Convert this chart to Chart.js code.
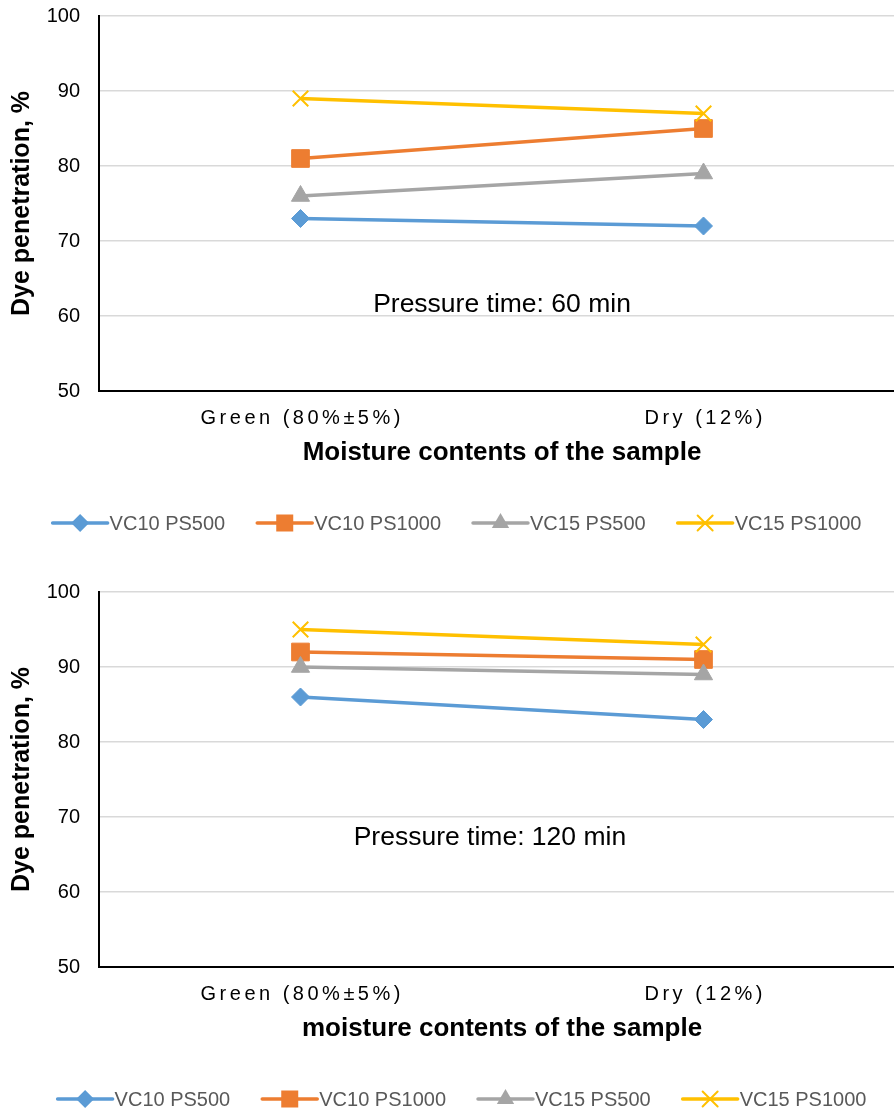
<!DOCTYPE html>
<html>
<head>
<meta charset="utf-8">
<script src="https://cdn.jsdelivr.net/npm/chart.js@4/dist/chart.umd.min.js"></script>
<style>
  html, body { margin: 0; padding: 0; background: #fff; overflow: hidden; width: 894px; height: 1114px; position: relative; }
  canvas { display: block; position: absolute; left: 0; }
  #chart60 { top: -16px; }
  #chart120 { top: 557px; }
</style>
</head>
<body>
<canvas id="chart60" width="905" height="573"></canvas>
<canvas id="chart120" width="905" height="557"></canvas>

<script>
// categories and tick labels
const categories = ['Green (80%±5%)', 'Dry (12%)'];
const yTicks = [50, 60, 70, 80, 90, 100];
const seriesNames = ['VC10 PS500', 'VC10 PS1000', 'VC15 PS500', 'VC15 PS1000'];

// pressure time 60 min
const vc10ps500_60 = [73, 72];
const vc10ps1000_60 = [81, 85];
const vc15ps500_60 = [76, 79];
const vc15ps1000_60 = [89, 87];

// pressure time 120 min
const vc10ps500_120 = [86, 83];
const vc10ps1000_120 = [92, 91];
const vc15ps500_120 = [90, 89];
const vc15ps1000_120 = [95, 93];

const colors = ['#5B9BD5', '#ED7D31', '#A5A5A5', '#FFC000'];
const markers = ['rectRot', 'rect', 'triangle', 'crossRot'];
const markerSize = { rectRot: 9, rect: 12.5, triangle: 10.5, crossRot: 11 };

const FONT = '"Liberation Sans", Arial, sans-serif';

// small marker drawer for the legend
function drawMarker(ctx, style, x, y, color) {
    ctx.save();
    ctx.fillStyle = color;
    ctx.strokeStyle = color;
    ctx.beginPath();
    if (style === 'rectRot') {
        const r = 9;
        ctx.moveTo(x, y - r); ctx.lineTo(x + r, y); ctx.lineTo(x, y + r); ctx.lineTo(x - r, y);
        ctx.closePath(); ctx.fill();
    } else if (style === 'rect') {
        ctx.rect(x - 8.5, y - 8.5, 17, 17); ctx.fill();
    } else if (style === 'triangle') {
        const r = 10;
        ctx.moveTo(x, y - r); ctx.lineTo(x + r * 0.866, y + r * 0.5); ctx.lineTo(x - r * 0.866, y + r * 0.5);
        ctx.closePath(); ctx.fill();
    } else {
        const d = 7.5;
        ctx.lineWidth = 2;
        ctx.moveTo(x - d, y - d); ctx.lineTo(x + d, y + d);
        ctx.moveTo(x + d, y - d); ctx.lineTo(x - d, y + d);
        ctx.stroke();
    }
    ctx.restore();
}

// x labels (spaced), annotation and legend
const extras = {
    id: 'extras',
    afterDraw(chart) {
        const ctx = chart.ctx;
        const xs = chart.scales.x, ys = chart.scales.y;
        const cfg = chart.options.plugins.extras;
        const area = chart.chartArea;

        ctx.save();
        ctx.fillStyle = '#000';
        ctx.font = '20px ' + FONT;
        ctx.textAlign = 'center';
        ctx.textBaseline = 'middle';
        ctx.letterSpacing = '3.5px';
        categories.forEach((c, i) => {
            ctx.fillText(c, xs.getPixelForValue(i) + 1.75, area.bottom + 27);
        });
        ctx.letterSpacing = '0px';

        ctx.font = '26.5px ' + FONT;
        ctx.fillText(cfg.note, xs.getPixelForValue(cfg.noteAt[0]), ys.getPixelForValue(cfg.noteAt[1]));

        // legend
        ctx.font = '20px ' + FONT;
        const lineLen = 55, gap = 32;
        const widths = seriesNames.map(n => ctx.measureText(n).width);
        const total = widths.reduce((a, b) => a + b, 0) + seriesNames.length * (lineLen + 2) + gap * (seriesNames.length - 1);
        let x = cfg.legendCenter - total / 2;
        const y = area.bottom + 132;
        ctx.textAlign = 'left';
        seriesNames.forEach((n, i) => {
            ctx.strokeStyle = colors[i];
            ctx.lineWidth = 3.5;
            ctx.lineCap = 'round';
            ctx.beginPath();
            ctx.moveTo(x, y); ctx.lineTo(x + lineLen, y);
            ctx.stroke();
            drawMarker(ctx, markers[i], x + lineLen / 2, y, colors[i]);
            ctx.fillStyle = '#595959';
            ctx.fillText(n, x + lineLen + 2, y + 1);
            x += lineLen + 2 + widths[i] + gap;
        });
        ctx.restore();
    }
};

const panels = [
    {
        id: 'chart60',
        series: [vc10ps500_60, vc10ps1000_60, vc15ps500_60, vc15ps1000_60],
        xTitle: 'Moisture contents of the sample',
        note: 'Pressure time: 60 min',
        noteAt: [0.5, 61.5],
        legendCenter: 457,
        padTop: 32,
        padBottom: 81
    },
    {
        id: 'chart120',
        series: [vc10ps500_120, vc10ps1000_120, vc15ps500_120, vc15ps1000_120],
        xTitle: 'moisture contents of the sample',
        note: 'Pressure time: 120 min',
        noteAt: [0.47, 67.2],
        legendCenter: 462,
        padTop: 35,
        padBottom: 62
    }
];

panels.forEach(p => {
    new Chart(document.getElementById(p.id), {
        type: 'line',
        data: {
            labels: categories,
            datasets: p.series.map((vals, i) => ({
                label: seriesNames[i],
                data: vals,
                borderColor: colors[i],
                backgroundColor: colors[i],
                borderWidth: 3.5,
                pointStyle: markers[i],
                pointRadius: markerSize[markers[i]],
                pointHoverRadius: markerSize[markers[i]],
                pointBorderWidth: markers[i] === 'crossRot' ? 2 : 1,
                pointBackgroundColor: colors[i],
                pointBorderColor: colors[i],
                tension: 0,
                order: seriesNames.length - i
            }))
        },
        options: {
            responsive: false,
            animation: false,
            layout: { autoPadding: false, padding: { top: p.padTop, bottom: p.padBottom, left: 0, right: 0 } },
            plugins: {
                legend: { display: false },
                tooltip: { enabled: false },
                extras: { note: p.note, noteAt: p.noteAt, legendCenter: p.legendCenter }
            },
            scales: {
                x: {
                    offset: true,
                    grid: { display: false },
                    border: { display: true, color: '#000', width: 2 },
                    ticks: { display: false },
                    title: {
                        display: true,
                        text: p.xTitle,
                        color: '#000',
                        font: { family: FONT, size: 26, weight: 'bold' },
                        padding: 8
                    },
                    afterFit(s) { s.height = 85; }
                },
                y: {
                    min: 50,
                    max: 100,
                    afterBuildTicks(s) { s.ticks = yTicks.map(v => ({ value: v })); },
                    grid: { color: '#d9d9d9', lineWidth: 1.5, drawTicks: false },
                    border: { display: true, color: '#000', width: 2 },
                    ticks: {
                        color: '#000',
                        padding: 19,
                        font: { family: FONT, size: 20 }
                    },
                    title: {
                        display: true,
                        text: 'Dye penetration, %',
                        color: '#000',
                        font: { family: FONT, size: 25, weight: 'bold' },
                        padding: 7
                    },
                    afterFit(s) { s.width = 99; }
                }
            }
        },
        plugins: [extras]
    });
});
</script>
</body>
</html>
